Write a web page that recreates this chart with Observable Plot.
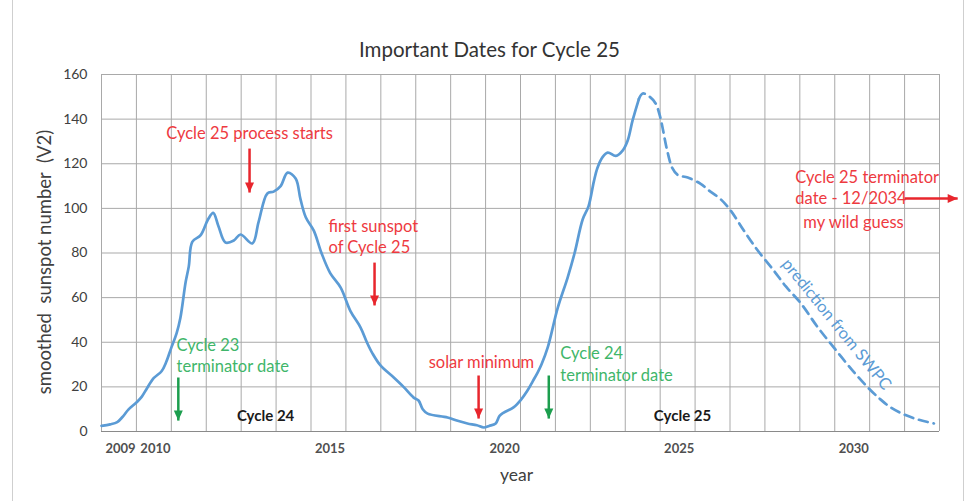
<!DOCTYPE html>
<html><head><meta charset="utf-8">
<script src="https://cdn.jsdelivr.net/npm/d3@7"></script>
<script src="https://cdn.jsdelivr.net/npm/@observablehq/plot@0.6"></script>
<style>
body{margin:0;background:#fff;}
#wrap{position:relative;width:972px;height:501px;overflow:hidden;background:#fff;}
#frame{position:absolute;left:12px;top:0;width:950px;height:501px;border-left:1px solid #cfcfcf;border-right:1px solid #cfcfcf;pointer-events:none;}
</style></head><body><div id="wrap"><div id="frame"></div></div>
<script>
// observed smoothed sunspot number (V2)
const solidYear = [2009.00,2009.25,2009.45,2009.60,2009.77,2010.00,2010.15,2010.30,2010.50,2010.72,2010.85,2011.00,2011.15,2011.26,2011.41,2011.50,2011.60,2011.84,2012.05,2012.20,2012.35,2012.55,2012.79,2012.98,2013.32,2013.50,2013.75,2013.93,2014.13,2014.33,2014.56,2014.70,2014.85,2015.08,2015.30,2015.55,2015.85,2016.13,2016.42,2016.60,2016.76,2016.99,2017.37,2017.65,2017.94,2018.08,2018.20,2018.34,2018.91,2019.20,2019.48,2019.75,2019.95,2020.10,2020.29,2020.40,2020.52,2020.80,2021.00,2021.20,2021.35,2021.49,2021.60,2021.78,2022.07,2022.35,2022.55,2022.78,2022.95,2023.10,2023.20,2023.35,2023.50,2023.73,2023.93,2024.07,2024.21,2024.39];
const solidValue = [2.5,3.2,4.2,6.5,9.8,13,15.5,19.3,24,27,31,37.6,44,51,67,74,85,88,95,98,92,84.7,85.6,88.3,84.3,94,106.7,107.5,110,116,113.4,104,96,90,80,71,64.5,54,46.6,40,35,29.6,24.2,20,15.2,13.9,10,8,6.3,4.8,3.6,2.8,1.8,2.5,3.6,7,8.5,10.8,14,18.4,22.5,26.4,30,37.7,55.6,69,80,95,101,112,118,123,125,123.5,126,130.4,139.4,149];
// SWPC prediction (dashed)
const predYear = [2024.39,2024.50,2024.70,2024.87,2025.00,2025.20,2025.35,2025.50,2025.79,2026.16,2026.40,2026.74,2027.02,2027.40,2027.80,2028.26,2028.60,2029.03,2029.50,2029.97,2030.50,2030.95,2031.30,2031.60,2032.00,2032.40,2032.84];
const predValue = [149,151.5,150,147,141,126,118,115,113.8,111,108,104,99,90,81,72,65,57.4,47,37.7,27.5,19.7,14.5,10.8,7.5,5.3,3.6];

const yTicks = [0,20,40,60,80,100,120,140,160];
const xTickYears = [2009,2010,2015,2020,2025,2030];
const gridYears = [2009,2010,2011,2012,2013,2014,2015,2016,2017,2018,2019,2020,2021,2022,2023,2024,2025,2026,2027,2028,2029,2030,2031,2032,2033];

// annotations (year, value)
const redCentered = [
  {text:"Cycle 25 process starts", year:2013.24, value:133.6},
  {text:"solar minimum", year:2019.88, value:30.9}
];
const redLeft = [
  {text:"first sunspot", year:2015.50, value:91.6},
  {text:"of Cycle 25", year:2015.50, value:82.2},
  {text:"Cycle 25 terminator", year:2028.87, value:113.8},
  {text:"date - 12/2034", year:2028.87, value:104.4},
  {text:"my wild guess", year:2029.10, value:93.7}
];
const greenLeft = [
  {text:"Cycle 23", year:2011.15, value:38.5},
  {text:"terminator date", year:2011.15, value:29.0},
  {text:"Cycle 24", year:2022.14, value:35.0},
  {text:"terminator date", year:2022.14, value:25.2}
];
const cycleLabels = [
  {text:"Cycle 24", year:2013.70, value:6.7},
  {text:"Cycle 25", year:2025.64, value:6.7}
];
const swpcNote = [{text:"prediction from SWPC", year:2030.05, value:48}];
const redArrows = [
  {year:2013.24, from:126.8, to:107.1},
  {year:2016.82, from:75.7, to:56.5},
  {year:2019.80, from:25.1, to:5.8}
];
const greenArrows = [
  {year:2021.81, from:25.1, to:5.8},
  {year:2011.20, from:24.2, to:4.9}
];
const rightArrow = [{from:2032.0, to:2033.52, value:104.4}];

const solid = solidYear.map((x, i) => ({x, y: solidValue[i]}));
const pred = predYear.map((x, i) => ({x, y: predValue[i]}));

const headDown = {draw(c){ c.moveTo(0,0); c.lineTo(-4.5,-10); c.lineTo(4.5,-10); c.closePath(); }};
const headRight = {draw(c){ c.moveTo(0,0); c.lineTo(-10,-4.5); c.lineTo(-10,4.5); c.closePath(); }};

const RED = "#e8262d", REDTXT = "#ee3a3f", GREEN = "#1c9e4e", GREENTXT = "#3fb66a", BLUE = "#5b9bd5";
const F = "Lato, 'Open Sans', sans-serif";

const chart = Plot.plot({
  width: 972, height: 501,
  marginTop: 74, marginBottom: 70, marginLeft: 101, marginRight: 33,
  style: {fontFamily: F, background: "transparent", overflow: "visible"},
  x: {domain: [2009, 2033]},
  y: {domain: [0, 160]},
  marks: [
    Plot.ruleX(gridYears, {stroke: "#a9a9a9", strokeWidth: 1}),
    Plot.ruleY(yTicks, {stroke: "#a9a9a9", strokeWidth: 1}),
    Plot.ruleY([0], {stroke: "#8a8a8a", strokeWidth: 1}),
    Plot.axisY(yTicks, {tickSize: 0, tickPadding: 14, fontSize: 14, color: "#404040", label: null}),
    Plot.axisX(xTickYears, {tickSize: 0, tickPadding: 12, dx: 19, fontSize: 13, fontWeight: "bold", color: "#505050", tickFormat: d => String(d), label: null}),
    Plot.line(solid, {x: "x", y: "y", stroke: BLUE, strokeWidth: 2.7, curve: "catmull-rom"}),
    Plot.line(pred, {x: "x", y: "y", stroke: BLUE, strokeWidth: 2.7, strokeDasharray: "9,6", curve: "catmull-rom"}),
    Plot.link(redArrows, {x1: "year", x2: "year", y1: "from", y2: "to", stroke: RED, strokeWidth: 2.5}),
    Plot.dot(redArrows, {x: "year", y: "to", symbol: headDown, fill: RED, stroke: "none"}),
    Plot.link(greenArrows, {x1: "year", x2: "year", y1: "from", y2: "to", stroke: GREEN, strokeWidth: 2.5}),
    Plot.dot(greenArrows, {x: "year", y: "to", symbol: headDown, fill: GREEN, stroke: "none"}),
    Plot.link(rightArrow, {x1: "from", x2: "to", y1: "value", y2: "value", stroke: RED, strokeWidth: 2.5}),
    Plot.dot(rightArrow, {x: "to", y: "value", symbol: headRight, fill: RED, stroke: "none"}),
    Plot.text(redCentered, {x: "year", y: "value", text: "text", fill: REDTXT, fontSize: 16.5, textAnchor: "middle"}),
    Plot.text(redLeft, {x: "year", y: "value", text: "text", fill: REDTXT, fontSize: 16.5, textAnchor: "start"}),
    Plot.text(greenLeft, {x: "year", y: "value", text: "text", fill: GREENTXT, fontSize: 16.5, textAnchor: "start"}),
    Plot.text(cycleLabels, {x: "year", y: "value", text: "text", fill: "#1a1a1a", fontSize: 15, fontWeight: "bold", textAnchor: "middle"}),
    Plot.text(swpcNote, {x: "year", y: "value", text: "text", fill: BLUE, fontSize: 16.5, rotate: 51}),
    Plot.text(["Important Dates for Cycle 25"], {frameAnchor: "top", dx: -31, dy: -32, fontSize: 20.5, fill: "#333333", textAnchor: "middle"}),
    Plot.text(["smoothed\u00a0 sunspot number\u00a0 (V2)"], {frameAnchor: "left", rotate: -90, dx: -56, dy: 9, fontSize: 18.5, fill: "#404040", textAnchor: "middle"}),
    Plot.text(["year"], {frameAnchor: "bottom", dx: -4, dy: 49, fontSize: 17.5, fill: "#404040", textAnchor: "middle"})
  ]
});
document.getElementById("wrap").prepend(chart);
</script>
</body></html>
